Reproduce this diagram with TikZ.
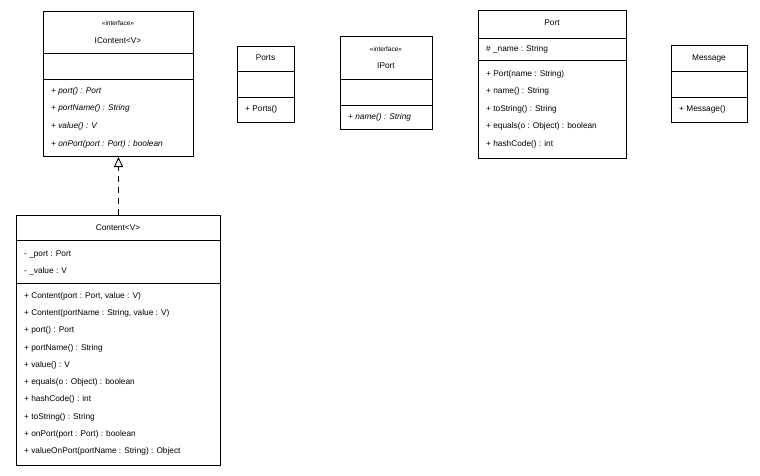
\documentclass[tikz,border=0pt]{standalone}
\usepackage{fontspec}
\setmainfont{Liberation Sans}
\usetikzlibrary{arrows.meta}
\begin{document}
\begin{tikzpicture}[x=1pt,y=-1pt,font=\fontsize{8.3}{9}\selectfont,
  box/.style={draw,line width=1pt,anchor=north west,inner sep=0pt},
  sep/.style={line width=1pt},
  lt/.style={anchor=west,inner sep=0pt},
  ct/.style={anchor=center,inner sep=0pt},
  real/.style={dashed,dash pattern=on 6pt off 5pt,line width=0.9pt,-{Triangle[open,length=10pt,width=9pt,line width=0.9pt]}}]
\useasboundingbox (0,0) rectangle (760,475);
% IContent
\node[box,minimum width=150pt,minimum height=145pt] (icontent) at (43,11) {};
\draw[sep] (43,53)--(193,53) (43,79)--(193,79);
\node[ct,font=\fontsize{6.5}{7}\selectfont] (ic1) at (118,23) {«interface»};
\node[ct] (ic2) at (118,41) {IContent<V>};
\foreach \t [count=\i] in {+ port() : Port,+ portName() : String,+ value() : V,+ onPort(port : Port) : boolean}
  \node[lt,font=\fontsize{8.3}{9}\selectfont\itshape] (icm\i) at (51,{91+(\i-1)*17.7}) {\t};
% Ports
\node[box,minimum width=57pt,minimum height=76pt] (ports) at (237,46) {};
\draw[sep] (237,71)--(294,71) (237,97)--(294,97);
\node[ct] (ps1) at (265.5,58) {Ports};
\node[lt] (ps2) at (245,109) {+ Ports()};
% IPort
\node[box,minimum width=92pt,minimum height=93pt] (iport) at (340,36) {};
\draw[sep] (340,79)--(432,79) (340,105)--(432,105);
\node[ct,font=\fontsize{6.5}{7}\selectfont] (ip1) at (386,49) {«interface»};
\node[ct] (ip2) at (386,66) {IPort};
\node[lt,font=\fontsize{8.3}{9}\selectfont\itshape] (ip3) at (348,117) {+ name() : String};
% Port
\node[box,minimum width=148pt,minimum height=148pt] (port) at (478,10) {};
\draw[sep] (478,38)--(626,38) (478,60)--(626,60);
\node[ct] (pt0) at (552,23) {Port};
\node[lt] (pta) at (486,49) {\# \_name : String};
\foreach \t [count=\i] in {+ Port(name : String),+ name() : String,+ toString() : String,+ equals(o : Object) : boolean,+ hashCode() : int}
  \node[lt] (ptm\i) at (486,{74+(\i-1)*17.5}) {\t};
% Message
\node[box,minimum width=76pt,minimum height=77pt] (message) at (671,45) {};
\draw[sep] (671,71)--(747,71) (671,97)--(747,97);
\node[ct] (ms1) at (709,58) {Message};
\node[lt] (ms2) at (679,109) {+ Message()};
% Content
\node[box,minimum width=204pt,minimum height=250pt] (content) at (16,215) {};
\draw[sep] (16,240)--(220,240) (16,283)--(220,283);
\node[ct] (ct0) at (118,228) {Content<V>};
\node[lt] (cta1) at (24,254) {- \_port : Port};
\node[lt] (cta2) at (24,271) {- \_value : V};
\foreach \t [count=\i] in {{+ Content(port : Port, value : V)},{+ Content(portName : String, value : V)},+ port() : Port,+ portName() : String,+ value() : V,+ equals(o : Object) : boolean,+ hashCode() : int,+ toString() : String,+ onPort(port : Port) : boolean,+ valueOnPort(portName : String) : Object}
  \node[lt] (ctm\i) at (24,{296+(\i-1)*17.3}) {\t};
\draw[real] (content.north) -- (icontent.south);
\end{tikzpicture}
\end{document}
